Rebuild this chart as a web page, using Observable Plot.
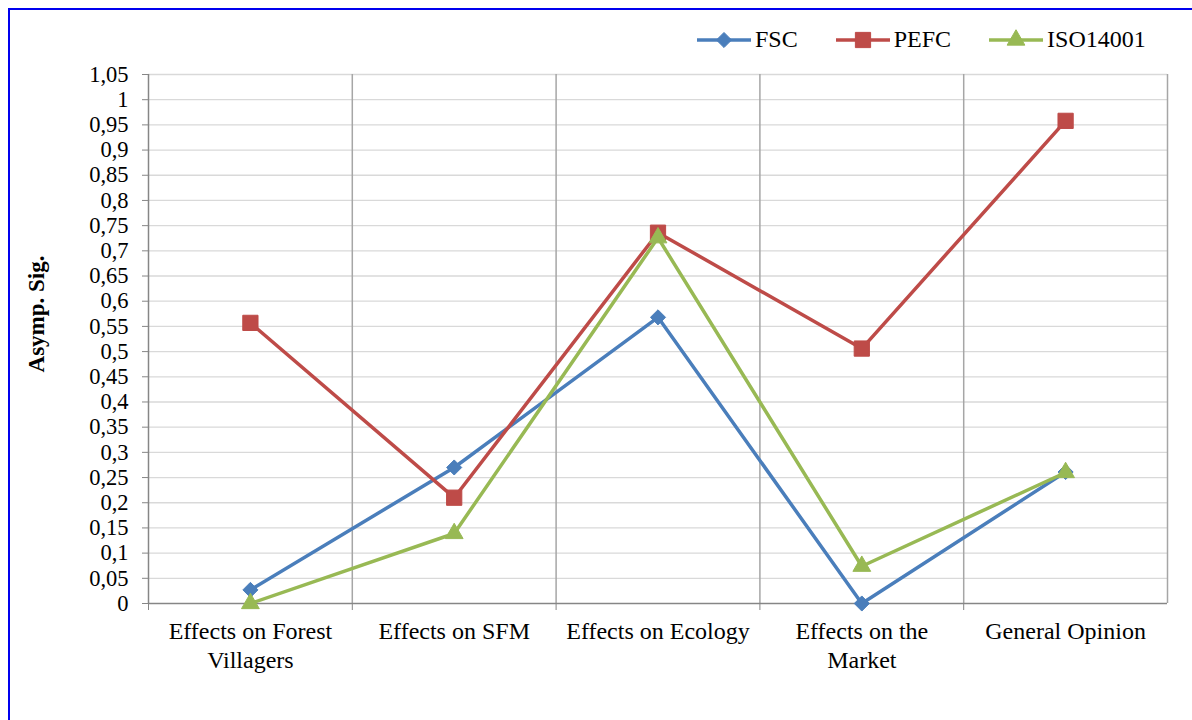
<!DOCTYPE html>
<html><head><meta charset="utf-8">
<script src="https://cdn.jsdelivr.net/npm/d3@7"></script>
<script src="https://cdn.jsdelivr.net/npm/@observablehq/plot@0.6"></script>
<style>
body{margin:0;background:#fff;font-family:"Liberation Serif","Times New Roman",serif;overflow:hidden;}
#frame{position:absolute;left:8px;top:8px;width:1200px;height:740px;border:2px solid #0000ee;box-sizing:border-box;}
#chart{position:absolute;left:0;top:0;}
#legend{position:absolute;left:697px;top:26px;display:flex;align-items:center;font-size:24px;color:#000;}
#legend .item{display:flex;align-items:center;margin-right:38px;}
#legend svg{display:block;margin-right:4px;}
#ytitle{position:absolute;left:37px;top:314px;transform:translate(-50%,-50%) rotate(-90deg);font-weight:bold;font-size:23px;white-space:nowrap;color:#000;}
</style></head><body>
<div id="frame"></div>
<div id="chart"></div>
<div id="legend"></div>
<div id="ytitle">Asymp. Sig.</div>
<script>
const categories = ["Effects on Forest\nVillagers", "Effects on SFM", "Effects on Ecology", "Effects on the\nMarket", "General Opinion"];
const fsc  = [0.027, 0.270, 0.568, 0.000, 0.261];
const pefc = [0.557, 0.210, 0.736, 0.506, 0.958];
const iso  = [0.000, 0.139, 0.726, 0.074, 0.260];
const seriesNames = ["FSC", "PEFC", "ISO14001"];
const seriesColors = ["#4a7ebb", "#be4b48", "#98b954"];
const seriesSymbols = ["diamond2", "square", "triangle"];
const seriesR = [6.8, 8.6, 6.6];
const yTicks = [0, 0.05, 0.1, 0.15, 0.2, 0.25, 0.3, 0.35, 0.4, 0.45, 0.5, 0.55, 0.6, 0.65, 0.7, 0.75, 0.8, 0.85, 0.9, 0.95, 1, 1.05];

const seriesValues = [fsc, pefc, iso];
const rows = [];
seriesNames.forEach((s, si) => seriesValues[si].forEach((v, i) => rows.push({series: s, si, i, cat: categories[i], value: v})));

const idx = categories.map((c, i) => i);
const bounds = [-0.5, ...categories.slice(1).map((c, i) => i + 0.5)];
const fmt = v => d3.format(".2~f")(v).replace(".", ",");

const marks = [
  Plot.ruleY(yTicks.filter(v => v > 0), {stroke: "#d9d9d9", strokeWidth: 1.3}),
  Plot.ruleX([...bounds.slice(1), categories.length - 0.5], {stroke: "#a6a6a6", strokeWidth: 1.5}),
  Plot.ruleX([-0.5], {stroke: "#868686", strokeWidth: 1.5}),
  Plot.ruleY([0], {stroke: "#868686", strokeWidth: 1.5}),
  Plot.axisY({ticks: yTicks, tickFormat: fmt, tickSize: 6, tickPadding: 14, stroke: "#868686", fill: "#000", label: null, fontSize: 22.5}),
  Plot.axisX({ticks: bounds, tickFormat: () => "", tickSize: 7, stroke: "#868686", label: null}),
  Plot.axisX({ticks: idx, tickFormat: i => categories[i], tickSize: 0, tickPadding: 16, lineHeight: 1.17, fill: "#000", label: null, fontSize: 24})
];
seriesNames.forEach((s, si) => {
  const d = rows.filter(r => r.si === si);
  marks.push(Plot.line(d, {x: "i", y: "value", stroke: seriesColors[si], strokeWidth: 3.5, strokeLinejoin: "round"}));
  marks.push(Plot.dot(d, {x: "i", y: "value", fill: seriesColors[si], symbol: seriesSymbols[si], r: seriesR[si], stroke: seriesColors[si], strokeWidth: 1, strokeLinejoin: "round"}));
});

const chart = Plot.plot({
  width: 1192,
  height: 720,
  marginLeft: 148,
  marginRight: 25,
  marginTop: 74,
  marginBottom: 117,
  style: {fontFamily: "'Liberation Serif', 'Times New Roman', serif", fontSize: "22px", color: "#000", background: "transparent"},
  x: {type: "linear", domain: [-0.5, categories.length - 0.5]},
  y: {domain: [0, 1.05]},
  marks
});
document.getElementById("chart").appendChild(chart);

const legend = document.getElementById("legend");
seriesNames.forEach((s, si) => {
  const item = document.createElement("div");
  item.className = "item";
  const symType = {diamond2: d3.symbolDiamond2, square: d3.symbolSquare, triangle: d3.symbolTriangle}[seriesSymbols[si]];
  const path = d3.symbol(symType, Math.PI * seriesR[si] * seriesR[si])();
  item.innerHTML = `<svg width="54" height="22"><line x1="0" x2="54" y1="11" y2="11" stroke="${seriesColors[si]}" stroke-width="3.5"/><path d="${path}" transform="translate(27,11)" fill="${seriesColors[si]}" stroke="${seriesColors[si]}" stroke-linejoin="round"/></svg><span>${s}</span>`;
  legend.appendChild(item);
});
</script>
</body></html>
